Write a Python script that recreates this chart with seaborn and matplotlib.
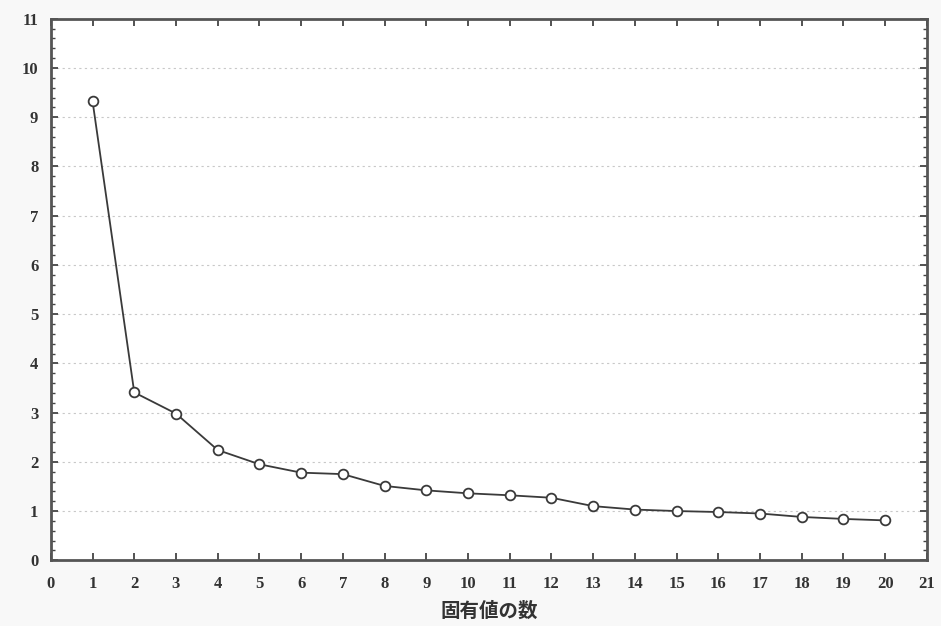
import matplotlib.pyplot as plt
from matplotlib.ticker import MultipleLocator
import seaborn as sns
import pandas as pd

# Scree plot: eigenvalue by component number
component = list(range(1, 21))
eigenvalue = [9.33, 3.41, 2.98, 2.24, 1.95, 1.78, 1.75, 1.51, 1.42, 1.36,
              1.32, 1.27, 1.10, 1.03, 1.00, 0.98, 0.95, 0.88, 0.84, 0.81]
x_label = "固有値の数"

df = pd.DataFrame({"n": component, "value": eigenvalue})

sns.set_style("white")
plt.rcParams['font.family'] = ['Liberation Serif', 'DejaVu Serif']

fig = plt.figure(figsize=(9.41, 6.26), dpi=100, facecolor='#f8f8f8')
ax = fig.add_axes([0.054, 0.105, 0.931, 0.865])
ax.set_facecolor('white')

sns.lineplot(data=df, x="n", y="value", ax=ax, color='#3a3a3a', linewidth=1.3,
             marker='o', markersize=7, markerfacecolor='white',
             markeredgecolor='#3a3a3a', markeredgewidth=1.3, zorder=3)

ax.set_xlim(0, 21)
ax.set_ylim(0, 11)
ax.xaxis.set_major_locator(MultipleLocator(1))
ax.yaxis.set_major_locator(MultipleLocator(1))
ax.yaxis.set_minor_locator(MultipleLocator(0.2))

ax.grid(axis='y', which='major', linestyle=(0, (2, 3)), color='#c8c8c8', linewidth=0.8)
ax.grid(axis='x', visible=False)

for s in ax.spines.values():
    s.set_color('#555555')
    s.set_linewidth(2)

ax.tick_params(which='both', direction='in', top=True, right=True,
               bottom=True, left=True, color='#444444')
ax.tick_params(which='major', length=5, width=1.3, labelsize=12,
               labelcolor='#333333')
ax.tick_params(axis='x', which='major', pad=11)
ax.tick_params(axis='y', which='major', pad=9)
ax.tick_params(which='minor', length=3, width=1)
ax.tick_params(axis='x', which='minor', bottom=False, top=False)
for lbl in ax.get_xticklabels() + ax.get_yticklabels():
    lbl.set_fontweight('bold')

ax.set_xlabel(x_label, fontsize=14, fontweight='bold', color='#333333',
              family=['Noto Sans CJK JP', 'DejaVu Sans'], labelpad=7)
ax.set_ylabel("")

fig.savefig("out.png", dpi=100, facecolor=fig.get_facecolor())
